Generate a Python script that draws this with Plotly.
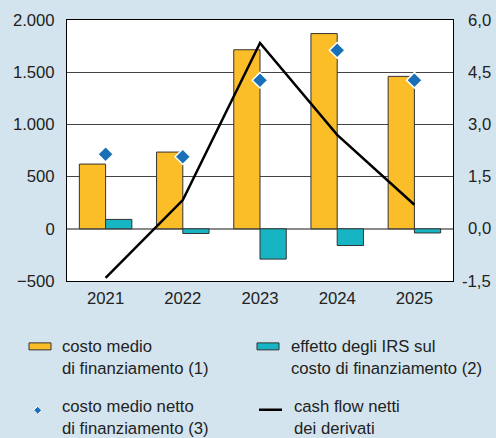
import plotly.graph_objects as go

years = ["2021", "2022", "2023", "2024", "2025"]
costo_medio = [620, 735, 1715, 1870, 1460]
effetto_irs = [90, -45, -290, -160, -40]
costo_netto = [2.14, 2.07, 4.27, 5.13, 4.27]
cash_flow = [-470, 275, 1780, 900, 230]

left_ticks = [-500, 0, 500, 1000, 1500, 2000]
right_ticks = [-1.5, 0.0, 1.5, 3.0, 4.5, 6.0]

ORANGE = "#FBBD28"
TEAL = "#17B5C4"
BLUE = "#1A70B8"
BG = "#D3E4EE"
TXT = "#222222"
FONT = "Liberation Sans, Arial, sans-serif"
FS = 16.7

fig = go.Figure()
fig.add_trace(go.Bar(x=years, y=costo_medio, marker=dict(color=ORANGE, line=dict(color="#333333", width=1)),
                     name="costo medio di finanziamento (1)", showlegend=False))
fig.add_trace(go.Bar(x=years, y=effetto_irs, marker=dict(color=TEAL, line=dict(color="#333333", width=1)),
                     name="effetto degli IRS sul costo di finanziamento (2)", showlegend=False))
fig.add_trace(go.Scatter(x=years, y=cash_flow, mode="lines", line=dict(color="black", width=2.5),
                         name="cash flow netti dei derivati", showlegend=False))
fig.add_trace(go.Scatter(x=years, y=costo_netto, mode="markers", yaxis="y2",
                         marker=dict(symbol="diamond", size=12, color=BLUE, line=dict(color="white", width=1.5)),
                         name="costo medio netto di finanziamento (3)", showlegend=False))

# manual legend (pixel -> paper conversion)
L, R, T, B = 67, 453, 19.5, 281
W, H = R - L, B - T
def px(x):
    return (x - L) / W
def py(y):
    return (B - y) / H

shapes = []
annotations = []
shapes.append(dict(type="rect", xref="paper", yref="paper", x0=px(29), x1=px(51), y0=py(350), y1=py(343),
                   fillcolor=ORANGE, line=dict(color="#333333", width=1)))
shapes.append(dict(type="rect", xref="paper", yref="paper", x0=px(257), x1=px(279), y0=py(350), y1=py(343),
                   fillcolor=TEAL, line=dict(color="#333333", width=1)))
cx, cy, r = 37.7, 410.5, 4
shapes.append(dict(type="path", xref="paper", yref="paper",
                   path=f"M {px(cx)},{py(cy-r)} L {px(cx+r)},{py(cy)} L {px(cx)},{py(cy+r)} L {px(cx-r)},{py(cy)} Z",
                   fillcolor=BLUE, line=dict(color="white", width=1)))
shapes.append(dict(type="line", xref="paper", yref="paper", x0=px(259), x1=px(282), y0=py(410), y1=py(410),
                   line=dict(color="black", width=2.5)))

legend_texts = [
    (60, 357.5, "costo medio<br>di finanziamento (1)"),
    (289, 357.5, "effetto degli IRS sul<br>costo di finanziamento (2)"),
    (60, 418, "costo medio netto<br>di finanziamento (3)"),
    (292, 418, "cash flow netti<br>dei derivati"),
]
for x, y, t in legend_texts:
    annotations.append(dict(text=t, xref="paper", yref="paper", x=px(x), y=py(y), xanchor="left", yanchor="middle",
                            align="left", showarrow=False, font=dict(family=FONT, size=FS, color=TXT)))

# right-axis tick labels, right-aligned like the reference
for v in right_ticks:
    annotations.append(dict(text=f"{v:.1f}".replace(".", ","), xref="paper", yref="y2", x=px(493), y=v,
                            xanchor="right", yanchor="middle", showarrow=False,
                            font=dict(family=FONT, size=FS, color=TXT)))

fig.update_layout(
    width=496, height=438,
    margin=dict(l=67, r=43, t=19.5, b=157),
    paper_bgcolor=BG, plot_bgcolor="white",
    separators=",.",
    barmode="group", bargap=0.32, bargroupgap=0,
    font=dict(family=FONT, size=FS, color=TXT),
    showlegend=False,
    xaxis=dict(showline=True, mirror=True, linecolor="black", linewidth=1, ticks="", showgrid=False,
               tickfont=dict(size=FS, color=TXT), ticklabelstandoff=2),
    yaxis=dict(range=[-500, 2000], tickvals=left_ticks, tickformat=",d", showline=True, mirror=True,
               linecolor="black", linewidth=1, gridcolor="#444444", gridwidth=1, zeroline=True,
               zerolinecolor="#8a8a8a", zerolinewidth=1.5, ticks="", ticklabelstandoff=8,
               tickfont=dict(size=FS, color=TXT)),
    yaxis2=dict(range=[-1.5, 6.0], tickvals=right_ticks, overlaying="y", side="right",
                showgrid=False, zeroline=False, ticks="", showticklabels=False),
    shapes=shapes, annotations=annotations,
)

fig.write_html("out.html", config={"displayModeBar": False},
               post_script="document.body.style.margin='0';document.body.style.background='%s';" % BG)
